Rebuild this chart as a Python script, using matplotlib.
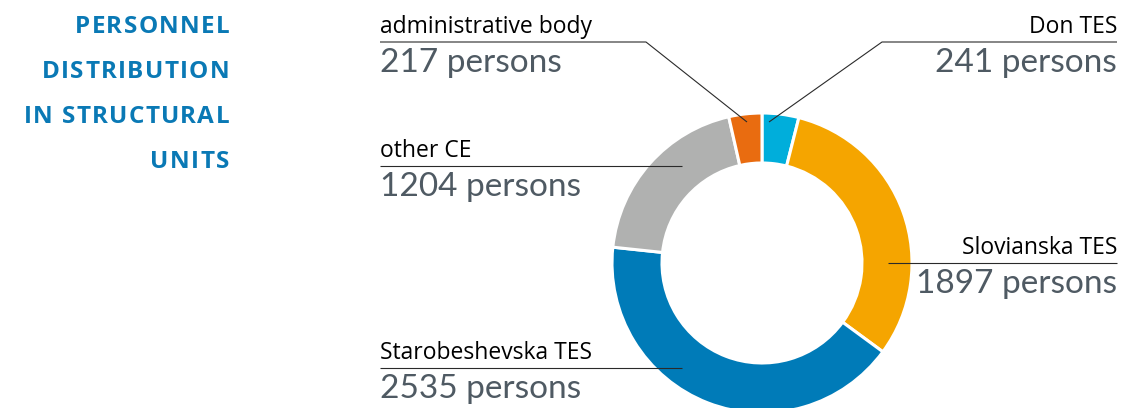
import numpy as np
import matplotlib.pyplot as plt
from matplotlib.font_manager import FontProperties

# data
units = ['Don TES', 'Slovianska TES', 'Starobeshevska TES', 'other CE', 'administrative body']
persons = [241, 1897, 2535, 1204, 217]
colors = ['#00aedb', '#f5a500', '#007bb8', '#b0b1b0', '#e96c10']
title_lines = ['PERSONNEL', 'DISTRIBUTION', 'IN STRUCTURAL', 'UNITS']

W, H = 1121, 408
fig = plt.figure(figsize=(W / 100, H / 100), dpi=100)
ax = fig.add_axes([0, 0, 1, 1])

def Y(p):
    # pixel row -> data y
    return H - p

cx, cy, r = 762, 263, 150
ax.pie(persons, colors=colors, startangle=90, counterclock=False,
       center=(cx, Y(cy)), radius=r,
       wedgeprops=dict(width=50, edgecolor='white', linewidth=2.2))

ax.set_xlim(0, W)
ax.set_ylim(0, H)
ax.set_aspect('equal')
ax.axis('off')

# title, right aligned with some letter spacing (drawn char by char)
renderer = fig.canvas.get_renderer()
tprop = FontProperties(family='Open Sans', weight='bold', size=17.5)
track = 1.3
for i, t in enumerate(title_lines):
    x = 229
    for ch in reversed(t):
        w, h, d = renderer.get_text_width_height_descent(ch, tprop, ismath=False)
        ax.text(x, Y(33 + 45 * i), ch, ha='right', va='baseline',
                fontproperties=tprop, color='#0a79b5')
        x -= w + track

# labels: side, line y, line end x, diagonal end
num_color = '#4f5a63'
line_col = '#2a2a2a'
labels = {
    'administrative body': ('left', 42, 646, (747, 122)),
    'Don TES': ('right', 42, 882, (769, 122)),
    'other CE': ('left', 166, 682, None),
    'Slovianska TES': ('right', 263, 888, None),
    'Starobeshevska TES': ('left', 368, 682, None),
}
for name, val in zip(units, persons):
    side, ly, lx, diag = labels[name]
    x0 = 380 if side == 'left' else 1117
    xs = [x0, lx]
    ys = [Y(ly), Y(ly)]
    if diag is not None:
        xs.append(diag[0])
        ys.append(Y(diag[1]))
    ax.plot(xs, ys, color=line_col, lw=0.8, solid_capstyle='butt')
    ax.text(x0, Y(ly - 9), name, ha=side, va='baseline', fontsize=16.5,
            color='black', family='Open Sans')
    ax.text(x0, Y(ly + 30), f'{val} persons', ha=side, va='baseline',
            fontsize=24, color=num_color, family='Lato')

fig.savefig('out.png', dpi=100)
